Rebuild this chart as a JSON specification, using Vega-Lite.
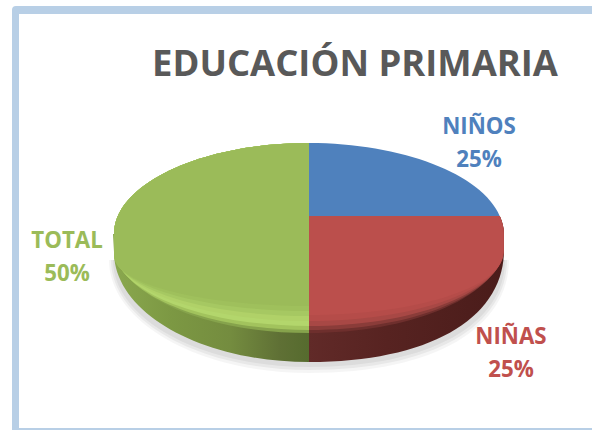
{"$schema":"https://vega.github.io/schema/vega-lite/v6.json","width":592,"height":430,"padding":0,"autosize":"none","background":"white","config":{"view":{"stroke":null}},
"title":{"text":"EDUCACIÓN PRIMARIA","font":"Open Sans","fontWeight":"bold","fontSize":36.4,"color":"#595959","anchor":"middle","offset":0,"baseline":"alphabetic","dx":59,"dy":112},
"data":{"values":[{"slice":"NIÑOS","pct":25,"label":"NIÑOS\n25%"},{"slice":"NIÑAS","pct":25,"label":"NIÑAS\n25%"},{"slice":"TOTAL","pct":50,"label":"TOTAL\n50%"}]},
"layer":[
{"data":{"values":[{"parte":"marco"}]},"mark":{"type":"point","filled":true,"size":4,"opacity":1,"fill":"#b8cfe6","strokeWidth":0,"shape":"M-284,215 L-284,-205 Q-284,-209 -280,-209 L297,-209 L297,-201 L-277,-201 L-277,213 L297,213 L297,215 Z"},"encoding":{}},
{"data":{"values":[{"parte":"sombra"}]},"mark":{"type":"point","filled":true,"size":4,"opacity":0.04,"fill":"#000000","strokeWidth":0,"shape":"M-187,45 A200,113 0 0 0 13,158 C140,158 213,112 213,45 Z"},"encoding":{}},
{"data":{"values":[{"parte":"sombra"}]},"mark":{"type":"point","filled":true,"size":4,"opacity":0.05,"fill":"#000000","strokeWidth":0,"shape":"M-185,45 A198,110 0 0 0 13,155 C138,155 211,110 211,45 Z"},"encoding":{}},
{"data":{"values":[{"parte":"sombra"}]},"mark":{"type":"point","filled":true,"size":4,"opacity":0.05,"fill":"#000000","strokeWidth":0,"shape":"M-183,45 A196,107 0 0 0 13,152 C136,152 209,108 209,45 Z"},"encoding":{}},
{"transform":[{"filter":{"field":"slice","equal":"TOTAL"}}],"mark":{"type":"point","filled":true,"size":4,"opacity":1,"strokeWidth":0,"fill":{"gradient":"linear","x1":0,"y1":0,"x2":1,"y2":0,"stops":[{"offset":0,"color":"#8aa84e"},{"offset":0.3,"color":"#7c9843"},{"offset":0.6,"color":"#748c3f"},{"offset":0.85,"color":"#5f7035"},{"offset":1,"color":"#566b2e"}]},"shape":"M13,147 A195,110 0 0 1 -182,37 L-183,19 L13,19 Z"},"encoding":{}},
{"transform":[{"filter":{"field":"slice","equal":"NIÑAS"}}],"mark":{"type":"point","filled":true,"size":4,"opacity":1,"strokeWidth":0,"fill":{"gradient":"linear","x1":0,"y1":0,"x2":1,"y2":0,"stops":[{"offset":0,"color":"#612a28"},{"offset":0.4,"color":"#572321"},{"offset":1,"color":"#4a1c1a"}]},"shape":"M13,147 C134,147 208,103 208,35 L207,19 L13,19 Z"},"encoding":{}},
{"transform":[{"filter":{"field":"slice","equal":"TOTAL"}}],"mark":{"type":"point","filled":true,"size":4,"opacity":1,"strokeWidth":0,"fill":"#86a34c","shape":"M13,-72 A195,91 0 0 0 -182,19 L-182,29 C-182,78.2 -94.7,118 13,118 Z"},"encoding":{}},
{"transform":[{"filter":{"field":"slice","equal":"TOTAL"}}],"mark":{"type":"point","filled":true,"size":4,"opacity":1,"strokeWidth":0,"fill":"#a2c35d","shape":"M13,-72 A195,91 0 0 0 -182,19 L-182,31 C-182,77.4 -94.7,115 13,115 Z"},"encoding":{}},
{"transform":[{"filter":{"field":"slice","equal":"TOTAL"}}],"mark":{"type":"point","filled":true,"size":4,"opacity":1,"strokeWidth":0,"fill":"#b3d66c","shape":"M13,-72 A195,91 0 0 0 -182,19 L-182,33 C-182,76.1 -94.7,111 13,111 Z"},"encoding":{}},
{"transform":[{"filter":{"field":"slice","equal":"TOTAL"}}],"mark":{"type":"point","filled":true,"size":4,"opacity":1,"strokeWidth":0,"fill":"#b0d168","shape":"M13,-72 A195,91 0 0 0 -182,19 L-182,35 C-182,74.2 -94.7,106 13,106 Z"},"encoding":{}},
{"transform":[{"filter":{"field":"slice","equal":"TOTAL"}}],"mark":{"type":"point","filled":true,"size":4,"opacity":1,"strokeWidth":0,"fill":"#a6c862","shape":"M13,-72 A195,91 0 0 0 -182,19 L-182,37 C-182,72.3 -94.7,101 13,101 Z"},"encoding":{}},
{"transform":[{"filter":{"field":"slice","equal":"TOTAL"}}],"mark":{"type":"point","filled":true,"size":4,"opacity":1,"strokeWidth":0,"fill":"#9fc05c","shape":"M13,-72 A195,91 0 0 0 -182,19 L-182,39 C-182,70.5 -94.7,96 13,96 Z"},"encoding":{}},
{"transform":[{"filter":{"field":"slice","equal":"TOTAL"}}],"mark":{"type":"point","filled":true,"size":4,"opacity":1,"strokeWidth":0,"fill":"#9bbb59","shape":"M13,-72 A195,91 0 0 0 -182,19 L-182,41 C-182,68.6 -94.7,91 13,91 Z"},"encoding":{}},
{"transform":[{"filter":{"field":"slice","equal":"NIÑAS"}}],"mark":{"type":"point","filled":true,"size":4,"opacity":1,"strokeWidth":0,"fill":"#6e2f2d","shape":"M13,1 L203.7,1 A195,91 0 0 1 208,19 L208,29 C208,78.2 120.7,118 13,118 Z"},"encoding":{}},
{"transform":[{"filter":{"field":"slice","equal":"NIÑAS"}}],"mark":{"type":"point","filled":true,"size":4,"opacity":1,"strokeWidth":0,"fill":"#8a3c39","shape":"M13,1 L203.7,1 A195,91 0 0 1 208,19 L208,31 C208,77.4 120.7,115 13,115 Z"},"encoding":{}},
{"transform":[{"filter":{"field":"slice","equal":"NIÑAS"}}],"mark":{"type":"point","filled":true,"size":4,"opacity":1,"strokeWidth":0,"fill":"#a84845","shape":"M13,1 L203.7,1 A195,91 0 0 1 208,19 L208,33 C208,76.1 120.7,111 13,111 Z"},"encoding":{}},
{"transform":[{"filter":{"field":"slice","equal":"NIÑAS"}}],"mark":{"type":"point","filled":true,"size":4,"opacity":1,"strokeWidth":0,"fill":"#b54c49","shape":"M13,1 L203.7,1 A195,91 0 0 1 208,19 L208,35 C208,74.2 120.7,106 13,106 Z"},"encoding":{}},
{"transform":[{"filter":{"field":"slice","equal":"NIÑAS"}}],"mark":{"type":"point","filled":true,"size":4,"opacity":1,"strokeWidth":0,"fill":"#bb4f4c","shape":"M13,1 L203.7,1 A195,91 0 0 1 207,19 L207,38 C207,72.3 120.7,100 13,100 Z"},"encoding":{}},
{"transform":[{"filter":{"field":"slice","equal":"NIÑOS"}}],"mark":{"type":"point","filled":true,"size":4,"opacity":1,"strokeWidth":0,"fill":"#4f81bd","shape":"M13,1 L13,-72 A195,91 0 0 1 203.7,1 Z"},"encoding":{}},
{"transform":[{"filter":{"field":"slice","equal":"NIÑOS"}}],"mark":{"type":"text","font":"Open Sans","fontWeight":"bold","fontSize":22.3,"lineBreak":"\n","lineHeight":33,"baseline":"alphabetic","align":"center","dx":183,"dy":-81},"encoding":{"text":{"field":"label"},"color":{"value":"#4f81bd"}}},
{"transform":[{"filter":{"field":"slice","equal":"NIÑAS"}}],"mark":{"type":"text","font":"Open Sans","fontWeight":"bold","fontSize":22.3,"lineBreak":"\n","lineHeight":33,"baseline":"alphabetic","align":"center","dx":215,"dy":129},"encoding":{"text":{"field":"label"},"color":{"value":"#c0504d"}}},
{"transform":[{"filter":{"field":"slice","equal":"TOTAL"}}],"mark":{"type":"text","font":"Open Sans","fontWeight":"bold","fontSize":22.3,"lineBreak":"\n","lineHeight":33,"baseline":"alphabetic","align":"center","dx":-229,"dy":33},"encoding":{"text":{"field":"label"},"color":{"value":"#9bbb59"}}}
]}
